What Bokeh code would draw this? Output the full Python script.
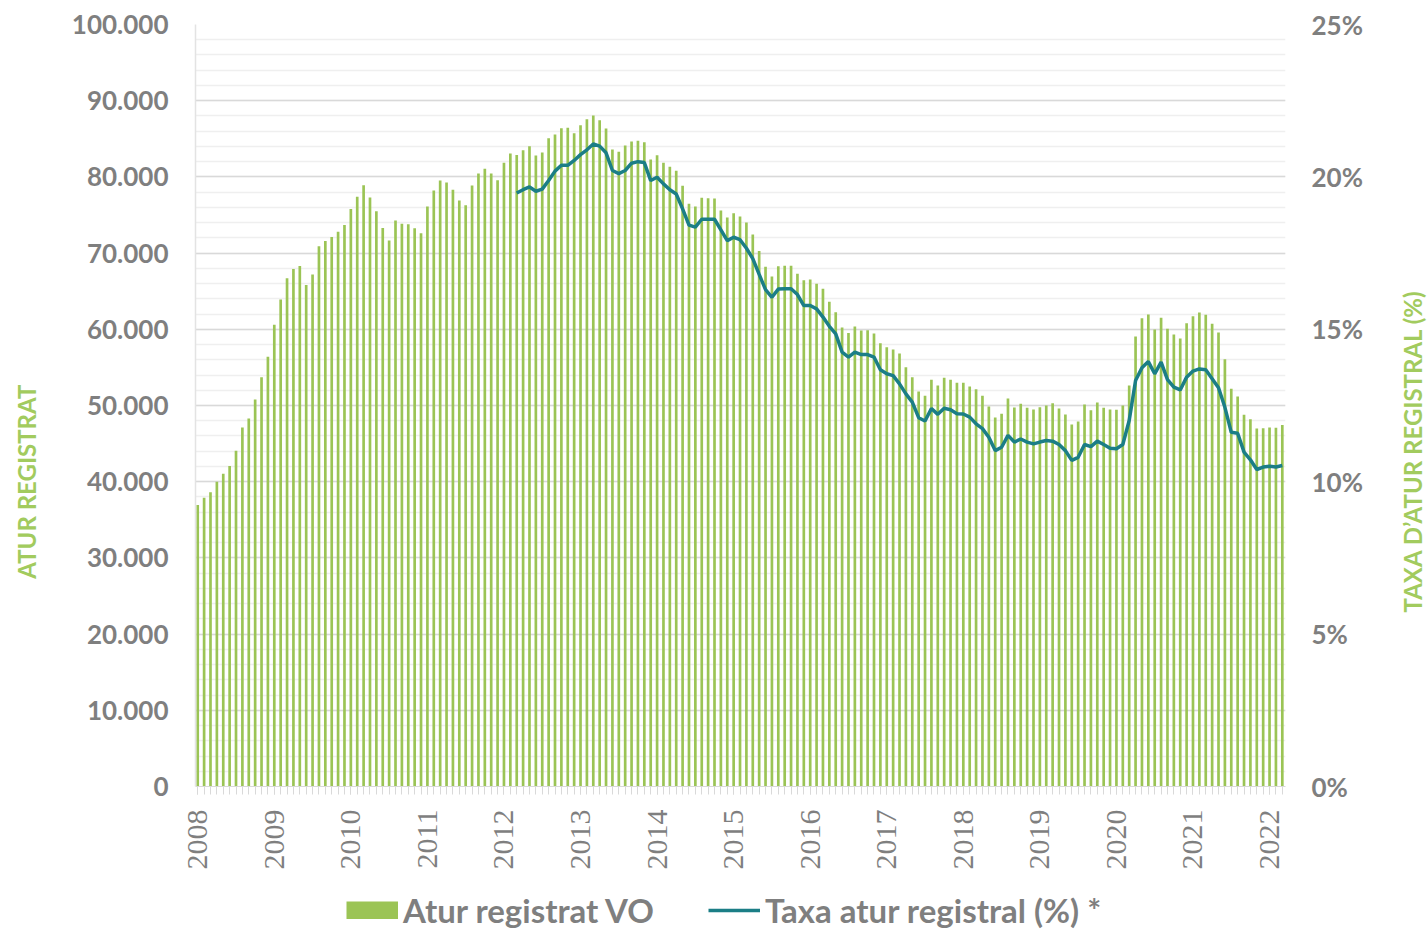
import math
from bokeh.plotting import figure
from bokeh.layouts import column, row
from bokeh.core.properties import value
from bokeh.models import (Range1d, LinearAxis, FixedTicker, CustomJSTickFormatter,
                          Legend, LegendItem, ColumnDataSource)
from bokeh.embed import file_html
from bokeh.resources import INLINE

# ---- data (monthly, Jan 2008 .. Mar 2022) ----
years = ["2008", "2009", "2010", "2011", "2012", "2013", "2014", "2015",
         "2016", "2017", "2018", "2019", "2020", "2021", "2022"]

atur_registrat = [
    36950, 37900, 38600, 40000, 41050, 42050, 44050, 47100, 48300, 50800,
    53700, 56400, 60600, 63900, 66700, 67900, 68300, 65800, 67200, 70900,
    71600, 72100, 72800, 73700, 75800, 77400, 78900, 77300, 75500, 73300,
    71650, 74280, 73840, 73800, 73270, 72620, 76100, 78200, 79530, 79270,
    78300, 76900, 76290, 78870, 80450, 81060, 80450, 79570, 81850, 83070,
    82890, 83500, 84030, 82800, 83200, 85070, 85560, 86400, 86440, 85720,
    86790, 87570, 88060, 87440, 86350, 83600, 83290, 84120, 84650, 84730,
    84560, 82280, 82850, 81850, 81320, 80800, 78830, 76470, 76120, 77260,
    77210, 77170, 75590, 74670, 75240, 74800, 74020, 72440, 70270, 68200,
    66930, 68280, 68330, 68350, 67280, 66450, 66540, 65970, 65310, 63610,
    62250, 60240, 59500, 60370, 59840, 59890, 59450, 58180, 57650, 57350,
    56820, 55030, 53720, 51840, 51270, 53370, 52620, 53630, 53370, 52980,
    52980, 52490, 52140, 51270, 49870, 48430, 48910, 50920, 49740, 50220,
    49700, 49480, 49780, 50000, 50310, 49610, 48820, 47510, 47900, 50130,
    49380, 50390, 49720, 49480, 49440, 50000, 52620, 59060, 61460, 61940,
    59970, 61510, 60060, 59320, 58790, 60800, 61720, 62200, 61900, 60720,
    59580, 56080, 52190, 51180, 48780, 48200, 46980, 47020, 47110, 47070,
    47450,
]

# rate starts in March 2012 (month index 50)
taxa_start = 50
taxa_atur = [
    19.47, 19.58, 19.67, 19.53, 19.60, 19.88, 20.19, 20.38, 20.38, 20.54,
    20.73, 20.89, 21.08, 21.01, 20.79, 20.21, 20.11, 20.21, 20.45, 20.50,
    20.47, 19.88, 19.99, 19.77, 19.58, 19.44, 18.95, 18.42, 18.35, 18.61,
    18.61, 18.61, 18.26, 17.91, 18.02, 17.94, 17.66, 17.32, 16.80, 16.30,
    16.05, 16.32, 16.33, 16.33, 16.14, 15.78, 15.78, 15.67, 15.40, 15.10,
    14.85, 14.25, 14.09, 14.25, 14.17, 14.17, 14.09, 13.67, 13.54, 13.48,
    13.21, 12.88, 12.61, 12.10, 11.99, 12.40, 12.21, 12.41, 12.36, 12.23,
    12.22, 12.12, 11.90, 11.74, 11.46, 11.02, 11.13, 11.52, 11.30, 11.40,
    11.30, 11.24, 11.30, 11.35, 11.33, 11.22, 11.02, 10.70, 10.80, 11.22,
    11.15, 11.33, 11.22, 11.10, 11.08, 11.22, 12.01, 13.32, 13.74, 13.94,
    13.54, 13.92, 13.35, 13.10, 13.01, 13.43, 13.63, 13.70, 13.67, 13.38,
    13.08, 12.44, 11.62, 11.59, 10.97, 10.72, 10.40, 10.48, 10.51, 10.48,
    10.53,
]

left_ticks = [0, 10000, 20000, 30000, 40000, 50000, 60000, 70000, 80000, 90000, 100000]
left_minor = list(range(0, 100001, 2000))
right_ticks = [0, 5, 10, 15, 20, 25]
left_title = "ATUR REGISTRAT"
right_title = "TAXA D\u2019ATUR REGISTRAL (%)"

n = len(atur_registrat)
month_idx = list(range(n))
rate_full = [float("nan")] * taxa_start + taxa_atur
rate_full = rate_full[:n] + [float("nan")] * (n - len(rate_full))

BAR = "#9BC455"
LINE = "#1B7E86"
GRAY = "#7F7F7F"
TITLE_GREEN = "#A2CB5E"

TOTAL_W, TOTAL_H = 1427, 930
LT_W, RT_W = 40, 30
MAIN_H = 876
TOP, BOTTOM = 24, MAIN_H - 786

src = ColumnDataSource(dict(x=month_idx, atur=atur_registrat, taxa=rate_full))

p = figure(width=TOTAL_W - LT_W - RT_W, height=MAIN_H, output_backend="svg",
           toolbar_location=None,
           x_range=Range1d(-0.35, n - 0.5), y_range=Range1d(0, 100000),
           min_border_left=195 - LT_W, min_border_right=(TOTAL_W - RT_W) - 1285,
           min_border_top=TOP, min_border_bottom=BOTTOM)
p.outline_line_color = None
p.background_fill_color = "white"
p.extra_y_ranges = {"pct": Range1d(0, 25)}

bars = p.vbar(x="x", top="atur", width=0.42, source=src, fill_color=BAR,
              line_color=None)
line = p.line(x="x", y="taxa", source=src, y_range_name="pct",
              line_color=LINE, line_width=3.5)

# x axis
xa = p.xaxis[0]
xa.ticker = FixedTicker(ticks=[12 * i for i in range(len(years))],
                        minor_ticks=month_idx)
xa.major_label_overrides = {12 * i: y for i, y in enumerate(years)}
xa.major_label_orientation = math.pi / 2
xa.major_label_text_font = "Liberation Sans Narrow"
xa.major_label_text_font_size = "30px"
xa.major_label_text_color = GRAY
xa.major_label_standoff = 15
xa.axis_line_color = "#D9D9D9"
xa.major_tick_line_color = "#D9D9D9"
xa.minor_tick_line_color = "#D9D9D9"
xa.major_tick_in = 0
xa.major_tick_out = 8
xa.minor_tick_in = 0
xa.minor_tick_out = 8

# left axis
ya = p.yaxis[0]
ya.ticker = FixedTicker(ticks=left_ticks, minor_ticks=left_minor)
ya.formatter = CustomJSTickFormatter(
    code="return Math.round(tick).toString().replace(/\\B(?=(\\d{3})+(?!\\d))/g, '.');")
ya.major_label_text_font = "Lato"
ya.major_label_text_font_style = "bold"
ya.major_label_text_font_size = "26px"
ya.major_label_text_color = GRAY
ya.major_label_standoff = 27
ya.major_tick_in = 0
ya.major_tick_out = 0
ya.minor_tick_in = 0
ya.minor_tick_out = 0
ya.axis_line_color = "#E3E3E3"
ya.axis_line_width = 1.5

# right axis
ra = LinearAxis(y_range_name="pct", ticker=FixedTicker(ticks=right_ticks),
                formatter=CustomJSTickFormatter(code="return tick + '%';"))
ra.major_label_text_font = "Lato"
ra.major_label_text_font_style = "bold"
ra.major_label_text_font_size = "26px"
ra.major_label_text_color = GRAY
ra.major_label_standoff = 26
ra.major_tick_in = 0
ra.major_tick_out = 0
ra.minor_tick_in = 0
ra.minor_tick_out = 0
ra.axis_line_color = None
p.add_layout(ra, "right")

# grid
p.xgrid.visible = False
p.ygrid.grid_line_color = "#D9D9D9"
p.ygrid.grid_line_width = 1.5
p.ygrid.minor_grid_line_color = "#EFEFEF"
p.ygrid.minor_grid_line_width = 1.5


def title_strip(width, text, x_center, y_value, y_range):
    f = figure(width=width, height=MAIN_H, output_backend="svg", toolbar_location=None,
               x_range=Range1d(0, width), y_range=y_range,
               min_border_left=0, min_border_right=0,
               min_border_top=TOP, min_border_bottom=BOTTOM)
    f.axis.visible = False
    f.grid.visible = False
    f.outline_line_color = None
    f.text(x=[x_center], y=[y_value], text=[text], angle=math.pi / 2,
           text_font=value("Lato"), text_font_style="bold", text_font_size="24px",
           text_color=TITLE_GREEN, text_align="center", text_baseline="middle")
    return f


lt = title_strip(LT_W, left_title, 25.5, 40000, Range1d(0, 100000))
rt = title_strip(RT_W, right_title, 15, 11, Range1d(0, 25))

# legend strip below the chart
LG_H = TOTAL_H - MAIN_H
lg = figure(width=TOTAL_W, height=LG_H, output_backend="svg", toolbar_location=None,
            x_range=Range1d(0, 1), y_range=Range1d(0, 1),
            min_border_left=195, min_border_right=TOTAL_W - 1285, min_border_top=0,
            min_border_bottom=0)
lg.axis.visible = False
lg.grid.visible = False
lg.outline_line_color = None
# swatches (off-range points, only their legend glyphs are visible)
lg_bar = lg.line(x=[-10, -9], y=[-10, -10], line_color=BAR, line_width=18,
                 line_cap="butt")
lg_line = lg.line(x=[-10, -9], y=[-10, -10], line_color=LINE, line_width=3.5,
                  line_cap="butt")
legend = Legend(items=[LegendItem(label="Atur registrat VO", renderers=[lg_bar]),
                       LegendItem(label="Taxa atur registral (%) *", renderers=[lg_line])],
                orientation="horizontal", location=(346 - 195, 0))
legend.label_text_font = "Lato"
legend.label_text_font_style = "bold"
legend.label_text_font_size = "33px"
legend.label_text_color = GRAY
legend.glyph_width = 52
legend.glyph_height = 18
legend.label_standoff = 5
legend.spacing = 54
legend.padding = 0
legend.margin = 0
legend.border_line_color = None
legend.background_fill_alpha = 0
lg.add_layout(legend, "center")

layout = column(row(lt, p, rt, spacing=0), lg, spacing=0)
open("out.html", "w").write(file_html(layout, INLINE))
